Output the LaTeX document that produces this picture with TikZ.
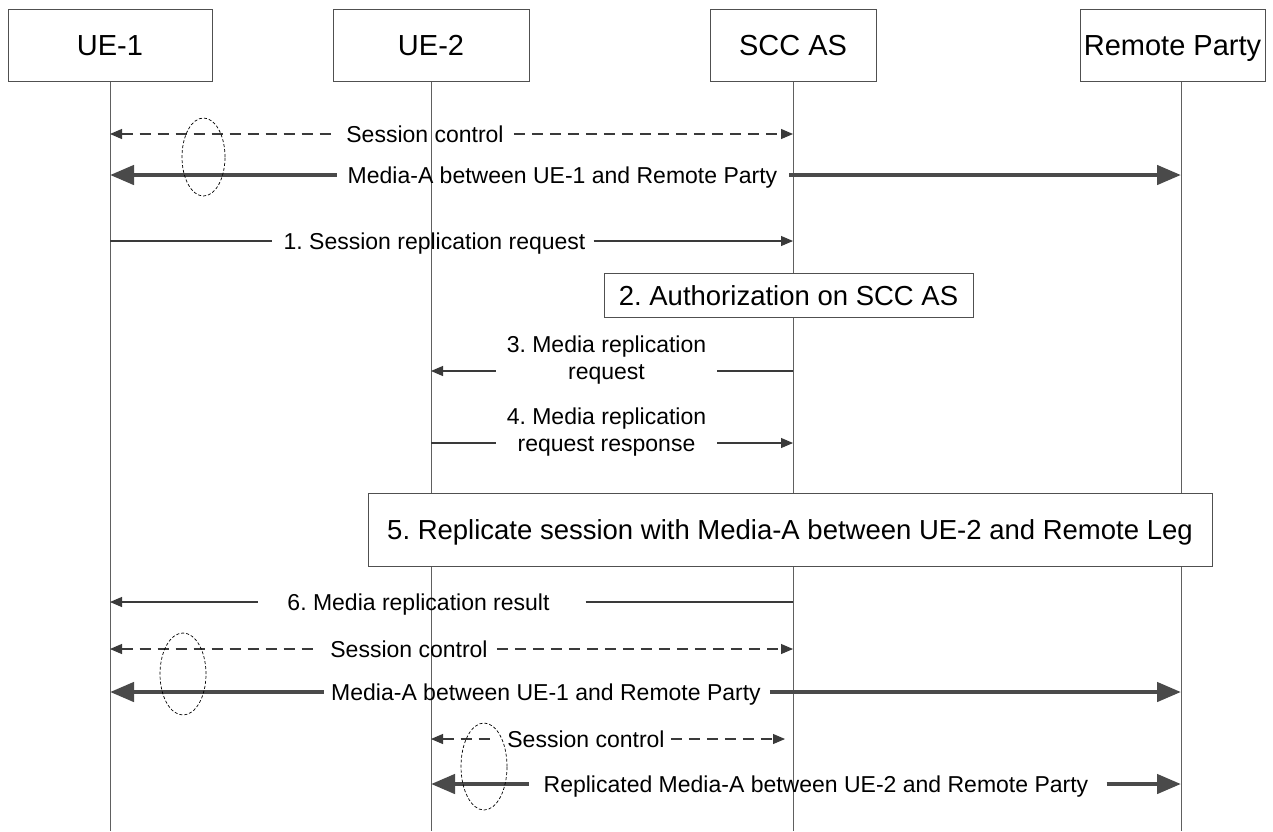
\documentclass[tikz,border=0pt]{standalone}
\usepackage{fontspec}
\setmainfont{Liberation Sans}
\usetikzlibrary{arrows.meta,shapes.geometric,calc}
\definecolor{boxc}{HTML}{505050}
\definecolor{lifec}{HTML}{606060}
\definecolor{msgc}{HTML}{3A3A3A}
\definecolor{medc}{HTML}{4A4A4A}
\frenchspacing
\begin{document}
\begin{tikzpicture}[x=1pt,y=-1pt,
  smalltri/.tip={Triangle[length=12pt,width=10pt]},
  bigtri/.tip={Triangle[length=24pt,width=19pt]},
  actor/.style={draw=boxc, line width=0.8pt, fill=white, minimum height=72pt, inner sep=0pt, text height=21pt, text depth=0pt, font=\fontsize{29}{34}\selectfont},
  stepbox/.style={draw=boxc, line width=0.8pt, fill=white, inner sep=0pt, text height=20pt, text depth=0pt, font=\fontsize{27.5}{32}\selectfont},
  lbl/.style={inner sep=0pt, text height=16.5pt, text depth=0pt, align=center, font=\fontsize{23}{27}\selectfont},
  life/.style={draw=lifec, line width=0.8pt},
  msg/.style={draw=msgc, line width=1.1pt},
  dmsg/.style={msg, dash pattern=on 11pt off 7pt},
  media/.style={draw=medc, line width=4.5pt},
  ell/.style={ellipse, draw=black, dash pattern=on 3pt off 2pt, line width=0.7pt, inner sep=0pt}
]
\useasboundingbox (0,0) rectangle (1273,831);

% lifelines
\coordinate (L1) at (110,81);  \coordinate (B1) at (110,831);
\coordinate (L2) at (431,81);  \coordinate (B2) at (431,831);
\coordinate (L3) at (793,81);  \coordinate (B3) at (793,831);
\coordinate (L4) at (1181,81); \coordinate (B4) at (1181,831);
\draw[life] (L1) -- (B1);
\draw[life] (L2) -- (B2);
\draw[life] (L3) -- (B3);
\draw[life] (L4) -- (B4);

% header boxes
\node[actor, minimum width=204pt] (ue1) at (110,45) {UE-1};
\node[actor, minimum width=196pt] (ue2) at (431,45) {UE-2};
\node[actor, minimum width=166pt] (scc) at (793,45) {SCC AS};
\node[actor, minimum width=185pt] (rp) at (1172.5,45) {Remote Party};

% row 1
\node[lbl] (m1) at (425,134) {Session control};
\draw[dmsg, smalltri-] (L1 |- m1) -- ($(m1.west)+(-12,0)$);
\draw[dmsg, -smalltri] ($(m1.east)+(10,0)$) -- (L3 |- m1);

% row 2
\node[lbl] (m2) at (562.5,175) {Media-A between UE-1 and Remote Party};
\draw[media, bigtri-] (L1 |- m2) -- ($(m2.west)+(-11,0)$);
\draw[media, -bigtri] ($(m2.east)+(12,0)$) -- (L4 |- m2);
\node[ell, minimum width=43pt, minimum height=78pt] (e1) at (203.5,157) {};

% row 3
\node[lbl] (m3) at (434.5,241) {1. Session replication request};
\draw[msg] (L1 |- m3) -- ($(m3.west)+(-11,0)$);
\draw[msg, -smalltri] ($(m3.east)+(8,0)$) -- (L3 |- m3);

% step 2
\node[stepbox, minimum width=369pt, minimum height=44pt] (s2) at (788.5,295) {2. Authorization on SCC AS};

% row 4
\node[lbl] (m4) at (606.5,371) {3. Media replication\\request};
\draw[msg, smalltri-] (L2 |- m4) -- ($(m4.west)+(-11,0)$);
\draw[msg] ($(m4.east)+(11,0)$) -- (L3 |- m4);

% row 5
\node[lbl] (m5) at (606.5,443) {4. Media replication\\request response};
\draw[msg] (L2 |- m5) -- ($(m5.west)+(-11,0)$);
\draw[msg, -smalltri] ($(m5.east)+(11,0)$) -- (L3 |- m5);

% step 5
\node[stepbox, minimum width=844pt, minimum height=73pt] (s5) at (790,529.5) {5. Replicate session with Media-A between UE-2 and Remote Leg};

% row 6
\node[lbl] (m6) at (418.5,602) {6. Media replication result};
\draw[msg, smalltri-] (L1 |- m6) -- ($(m6.west)+(-29,0)$);
\draw[msg] ($(m6.east)+(36,0)$) -- (L3 |- m6);

% row 7
\node[lbl] (m7) at (409,649) {Session control};
\draw[dmsg, smalltri-] (L1 |- m7) -- ($(m7.west)+(-15,0)$);
\draw[dmsg, -smalltri] ($(m7.east)+(9,0)$) -- (L3 |- m7);

% row 8
\node[lbl] (m8) at (546,692) {Media-A between UE-1 and Remote Party};
\draw[media, bigtri-] (L1 |- m8) -- ($(m8.west)+(-7,0)$);
\draw[media, -bigtri] ($(m8.east)+(9,0)$) -- (L4 |- m8);
\node[ell, minimum width=46pt, minimum height=82pt] (e2) at (183,674) {};

% row 9
\node[lbl] (m9) at (586,739) {Session control};
\coordinate (s9end) at ($(L3 |- m9)+(-8,0)$);
\draw[dmsg, smalltri-] (L2 |- m9) -- ($(m9.west)+(-12,0)$);
\draw[dmsg, -smalltri] ($(m9.east)+(6,0)$) -- (s9end);

% row 10
\node[lbl] (m10) at (816,784) {Replicated Media-A between UE-2 and Remote Party};
\draw[media, bigtri-] (L2 |- m10) -- ($(m10.west)+(-15,0)$);
\draw[media, -bigtri] ($(m10.east)+(18,0)$) -- (L4 |- m10);
\node[ell, minimum width=46pt, minimum height=87pt] (e3) at (484,766.5) {};

\end{tikzpicture}
\end{document}
